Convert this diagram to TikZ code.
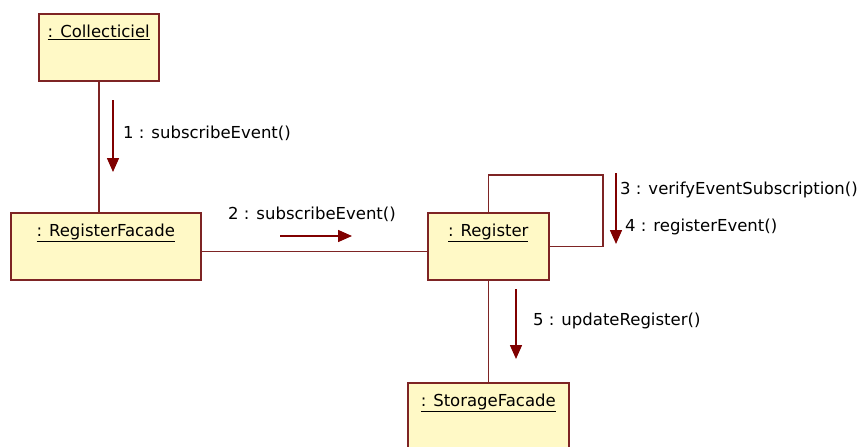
\documentclass[tikz,border=0pt]{standalone}
\usepackage{fontspec}
\setmainfont{DejaVu Sans}
\usetikzlibrary{arrows.meta, positioning, calc}
\usepackage{xcolor}

\definecolor{objfill}{HTML}{FFF9C6}
\definecolor{objline}{HTML}{7E2424}
\definecolor{msgred}{HTML}{800000}

\begin{document}
\begin{tikzpicture}[
      x=1pt, y=-1pt,
      obj/.style={rectangle, draw=objline, fill=objfill, line width=1.5pt, anchor=north west, inner sep=0pt, text height=24pt, font=\fontsize{16.5}{20}\selectfont},
      link/.style={objline, line width=1.5pt},
      msg/.style={msgred, line width=1.5pt, -{Triangle[width=12pt, length=14pt]}},
      msglabel/.style={anchor=base west, inner sep=0pt, font=\fontsize{16.5}{20}\selectfont}
    ]
    \useasboundingbox (0,0) rectangle (868,447);

    % Objets
    \node (coll) [obj, minimum width=120pt, text depth=43pt] at (38,13) {\underline{: Collecticiel}};
    \node (regfac) [obj, minimum width=190pt, text depth=43pt] at (10,212) {\underline{: RegisterFacade}};
    \node (reg) [obj, minimum width=121pt, text depth=43pt] at (427,212) {\underline{: Register}};
    \node (stor) [obj, minimum width=161pt, text depth=66pt] at (407,382) {\underline{: StorageFacade}};

    % Liens
    \draw [link] (coll.south) -- (coll.south |- regfac.north);
    \draw [link] ([yshift=-5pt]regfac.east) -- ([yshift=-5pt]reg.west);
    \draw [link] (reg.north) -- ++(0,-37) -- ++(114.5,0) |- (reg.east);
    \draw [link] (reg.south) -- (reg.south |- stor.north);

    % Messages
    \coordinate (m1a) at (113,100);
    \coordinate (m1b) at (113,172);
    \coordinate (m2a) at (280,236);
    \coordinate (m2b) at (352,236);
    \coordinate (m3a) at (616,173);
    \coordinate (m3b) at (616,244);
    \coordinate (m5a) at (516,289);
    \coordinate (m5b) at (516,359);

    \draw [msg] (m1a) -- (m1b);
    \draw [msg] (m2a) -- (m2b);
    \draw [msg] (m3a) -- (m3b);
    \draw [msg] (m5a) -- (m5b);

    \node (l1) [msglabel] at (123,138) {1 : subscribeEvent()};
    \node (l2) [msglabel] at (228,219) {2 : subscribeEvent()};
    \node (l3) [msglabel] at (620,194) {3 : verifyEventSubscription()};
    \node (l4) [msglabel] at (625,231) {4 : registerEvent()};
    \node (l5) [msglabel] at (533,325) {5 : updateRegister()};

  \end{tikzpicture}
\end{document}
